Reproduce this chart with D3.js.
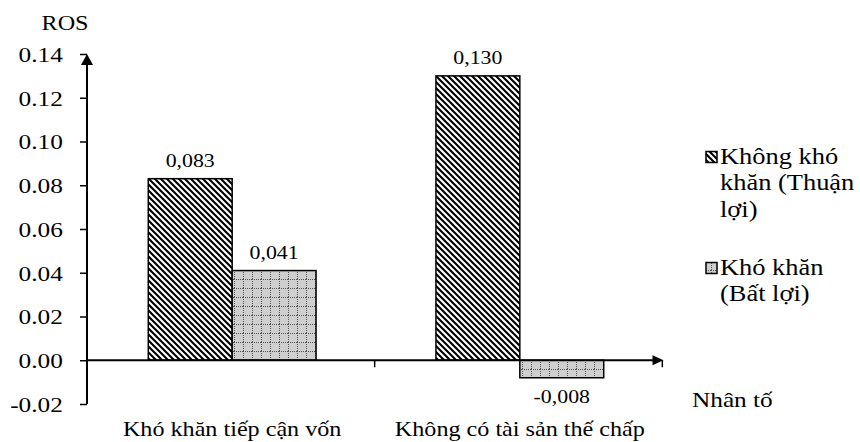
<!DOCTYPE html>
<html>
<head>
<meta charset="utf-8">
<script src="https://cdn.jsdelivr.net/npm/d3@7"></script>
<style>
  body { margin: 0; background: #fff; }
  text { font-family: "Liberation Serif", "Times New Roman", serif; fill: #000; }
</style>
</head>
<body>
<svg id="chart" width="860" height="442"></svg>
<script>
// ROS by obstacle factor, split by whether the firm faces the obstacle
const categories = ["Khó khăn tiếp cận vốn", "Không có tài sản thế chấp"];
const seriesKeys = ["thuanLoi", "batLoi"];
const thuanLoi = [0.083, 0.130];   // Không khó khăn (Thuận lợi)
const batLoi = [0.041, -0.008];    // Khó khăn (Bất lợi)
const yTicks = [-0.02, 0.00, 0.02, 0.04, 0.06, 0.08, 0.10, 0.12, 0.14];
const legendLines = [["Không khó", "khăn (Thuận", "lợi)"], ["Khó khăn", "(Bất lợi)"]];
const yTitle = "ROS";
const xTitle = "Nhân tố";

const seriesValues = { thuanLoi, batLoi };
const SX = 1.15; // horizontal text stretch

const svg = d3.select("#chart");
const locDot = d3.formatLocale({ decimal: ".", thousands: ",", grouping: [3], currency: ["", ""], minus: "-" });
const locComma = d3.formatLocale({ decimal: ",", thousands: ".", grouping: [3], currency: ["", ""], minus: "-" });
const tickFmt = locDot.format(".2f");
const valFmt = locComma.format(".3f");

// fill patterns
const defs = svg.append("defs");
const hatch = defs.append("pattern").attr("id", "hatch")
  .attr("patternUnits", "userSpaceOnUse").attr("width", 6).attr("height", 6);
hatch.append("rect").attr("width", 6).attr("height", 6).attr("fill", "#fff");
hatch.append("path").attr("d", "M-1,-1L7,7M-1,5L1,7M5,-1L7,1")
  .attr("stroke", "#000").attr("stroke-width", 2.1);

const grid = defs.append("pattern").attr("id", "grid")
  .attr("patternUnits", "userSpaceOnUse").attr("width", 9).attr("height", 9);
grid.append("rect").attr("width", 9).attr("height", 9).attr("fill", "#cfcfcf");
grid.append("path").attr("d", "M0.5,0V9").attr("stroke", "#555").attr("stroke-width", 1).attr("stroke-dasharray", "1,1");
grid.append("path").attr("d", "M0,0.5H9").attr("stroke", "#555").attr("stroke-width", 1).attr("stroke-dasharray", "1,1");

const fills = { thuanLoi: "url(#hatch)", batLoi: "url(#grid)" };

// scales
const x0 = d3.scaleBand().domain(categories).range([87, 665]).paddingInner(0.4167).paddingOuter(0.213);
const x1 = d3.scaleBand().domain(seriesKeys).range([0, x0.bandwidth()]);
const y = d3.scaleLinear().domain([-0.02, 0.14]).range([404, 54]);

function stext(parent, x, yy, str, size, anchor) {
  return parent.append("text")
    .attr("transform", `translate(${x},${yy}) scale(${SX},1)`)
    .attr("text-anchor", anchor)
    .style("font-size", size + "px")
    .text(str);
}

// bars
const rows = categories.map((c, i) => seriesKeys.map(k => ({ cat: c, key: k, v: seriesValues[k][i] })));
const gBars = svg.append("g");
rows.flat().forEach(d => {
  const bx = x0(d.cat) + x1(d.key);
  gBars.append("rect")
    .attr("x", bx).attr("width", x1.bandwidth())
    .attr("y", y(Math.max(0, d.v)))
    .attr("height", Math.abs(y(d.v) - y(0)))
    .attr("fill", fills[d.key])
    .attr("stroke", "#000").attr("stroke-width", 1.5);
  const ly = d.v >= 0 ? y(d.v) - 12 : y(d.v) + 25;
  stext(gBars, bx + x1.bandwidth() / 2, ly, valFmt(d.v), 19, "middle");
});

// y axis
const yAxis = svg.append("g").attr("transform", "translate(87,0)")
  .call(d3.axisLeft(y).tickValues(yTicks).tickSize(7).tickSizeOuter(0).tickFormat(tickFmt));
yAxis.select(".domain").remove();
yAxis.selectAll(".tick line").attr("stroke", "#000").attr("stroke-width", 1.5);
yAxis.selectAll(".tick text")
  .attr("x", -21).attr("dy", "0.34em")
  .attr("transform", `scale(${SX},1)`)
  .style("font-size", "22px")
  .style("font-family", "'Liberation Serif','Times New Roman',serif");
svg.append("line").attr("x1", 87).attr("x2", 87).attr("y1", y(-0.02)).attr("y2", y(0.14) + 4)
  .attr("stroke", "#000").attr("stroke-width", 2);
svg.append("path")
  .attr("d", `M87,${y(0.14)}L81,${y(0.14) + 11}L93,${y(0.14) + 11}Z`).attr("fill", "#000");

// x axis with arrow and category boundary ticks
const xEnd = x0.range()[1];
svg.append("line").attr("x1", 87).attr("x2", xEnd - 6).attr("y1", y(0)).attr("y2", y(0))
  .attr("stroke", "#000").attr("stroke-width", 2);
svg.append("path")
  .attr("d", `M${xEnd - 1.5},${y(0)}L${xEnd - 12.5},${y(0) - 5}L${xEnd - 12.5},${y(0) + 5}Z`).attr("fill", "#000");
d3.range(categories.length + 1).forEach(i => {
  const bx = x0.range()[0] + i * x0.step();
  svg.append("line").attr("x1", bx).attr("x2", bx).attr("y1", y(0)).attr("y2", y(0) + 7)
    .attr("stroke", "#000").attr("stroke-width", 1.5);
});

// category labels
categories.forEach(c => stext(svg, x0(c) + x0.bandwidth() / 2, 436, c, 21, "middle"));

// axis titles
stext(svg, 65, 30, yTitle, 21, "middle");
stext(svg, 692, 407, xTitle, 22, "start");

// legend
const legendTop = [157, 268];
seriesKeys.forEach((k, i) => {
  const cy = legendTop[i];
  svg.append("rect").attr("x", 706).attr("y", cy - 5.5).attr("width", 11).attr("height", 11)
    .attr("fill", fills[k]).attr("stroke", "#000").attr("stroke-width", 1.5);
  legendLines[i].forEach((t, j) => stext(svg, 720, cy + 6.5 + j * 26.5, t, 23, "start"));
});
</script>
</body>
</html>
